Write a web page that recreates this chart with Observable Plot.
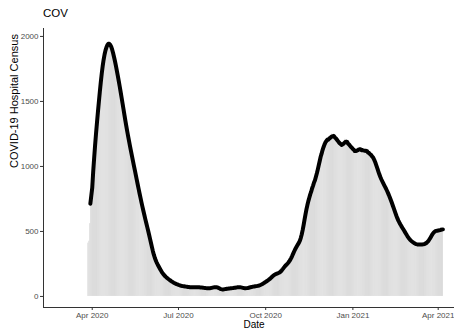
<!DOCTYPE html>
<html>
<head>
<meta charset="utf-8">
<script src="https://cdn.jsdelivr.net/npm/d3@7"></script>
<script src="https://cdn.jsdelivr.net/npm/@observablehq/plot@0.6"></script>
<style>
  html, body { margin: 0; padding: 0; background: #fff; }
  #wrap { position: relative; width: 454px; height: 331px; font-family: "Liberation Sans", Arial, sans-serif; }
  #title { position: absolute; left: 43px; top: 8px; font-size: 11.5px; line-height: 1; color: #000; }
  #chart svg { display: block; }
</style>
</head>
<body>
<div id="wrap">
  <div id="chart"></div>
  <div id="title"></div>
</div>
<script>
// Daily COVID-19 hospital census, one value per day starting at firstDay
const firstDay = "2020-03-28";
// The smoothed line starts a couple of days after the first report
const lineFrom = "2020-03-30";
const census = [
  410, 425, 560, 740, 840, 960, 1080, 1170, 1260, 1335,
  1420, 1500, 1580, 1650, 1720, 1780, 1830, 1870, 1900, 1925,
  1940, 1950, 1955, 1945, 1925, 1900, 1880, 1850, 1810, 1770,
  1735, 1700, 1660, 1615, 1570, 1530, 1485, 1440, 1395, 1350,
  1305, 1265, 1225, 1190, 1150, 1115, 1075, 1040, 1005, 970,
  935, 895, 860, 825, 790, 755, 720, 690, 655, 625,
  595, 565, 535, 505, 475, 445, 410, 380, 345, 315,
  292, 275, 260, 245, 232, 218, 205, 192, 180, 170,
  162, 155, 148, 142, 136, 130, 124, 119, 114, 110,
  106, 102, 98, 95, 92, 89, 86, 84, 82, 80,
  79, 78, 77, 76, 74, 73, 72, 71, 72, 70,
  71, 70, 72, 71, 73, 72, 70, 71, 69, 70,
  68, 67, 66, 65, 64, 63, 62, 63, 62, 64,
  66, 68, 70, 72, 73, 72, 71, 68, 63, 58,
  54, 52, 53, 55, 57, 58, 59, 60, 61, 62,
  62, 63, 64, 65, 66, 68, 69, 70, 71, 72,
  72, 71, 68, 66, 64, 63, 62, 63, 65, 67,
  69, 71, 73, 74, 75, 77, 78, 80, 81, 82,
  84, 86, 89, 93, 97, 102, 107, 112, 117, 122,
  127, 132, 137, 145, 154, 162, 167, 170, 173, 176,
  179, 182, 185, 189, 198, 210, 223, 231, 238, 245,
  253, 261, 269, 278, 295, 313, 331, 346, 361, 376,
  391, 402, 412, 422, 435, 465, 510, 550, 590, 630,
  675, 712, 738, 760, 782, 805, 842, 840, 891, 885,
  926, 928, 975, 1024, 1035, 1090, 1086, 1136, 1144, 1175,
  1199, 1185, 1220, 1198, 1221, 1204, 1225, 1249, 1230, 1250,
  1213, 1226, 1196, 1200, 1199, 1165, 1183, 1148, 1171, 1159,
  1185, 1209, 1182, 1206, 1168, 1176, 1144, 1150, 1159, 1125,
  1138, 1100, 1121, 1106, 1128, 1146, 1120, 1146, 1118, 1133,
  1109, 1122, 1134, 1108, 1133, 1098, 1111, 1084, 1095, 1085,
  1075, 1060, 1045, 1030, 1005, 980, 955, 935, 918, 900,
  885, 870, 857, 843, 829, 815, 798, 780, 762, 742,
  722, 703, 682, 660, 638, 615, 598, 582, 568, 555,
  543, 530, 518, 508, 495, 482, 470, 458, 446, 436,
  431, 425, 418, 413, 408, 404, 401, 399, 398, 398,
  399, 400, 401, 400, 401, 403, 406, 412, 420, 430,
  440, 452, 467, 482, 495, 500, 503, 505, 506, 507,
  508, 510, 512, 515, 520
];
const yTicks = [0, 500, 1000, 1500, 2000];
const xTicks = ["2020-04-01", "2020-07-01", "2020-10-01", "2021-01-01", "2021-04-01"];
const xDomain = ["2020-02-09T14:00Z", "2021-04-18T05:00Z"];
const yDomain = [-85, 2061];
const titleText = "COV";
const xLabel = "Date";
const yLabel = "COVID-19 Hospital Census";

const utc = s => new Date(s.length === 10 ? s + "T00:00:00Z" : s);
const start = utc(firstDay);
const rows = census.map((value, i) => {
  const date = d3.utcDay.offset(start, i);
  return {date, value, x1: d3.utcHour.offset(date, -12), x2: d3.utcHour.offset(date, 12)};
});
const lineStart = utc(lineFrom);
const lineRows = rows.filter(d => d.date >= lineStart);

const fontFamily = '"Liberation Sans", Arial, sans-serif';

const chart = Plot.plot({
  width: 454,
  height: 331,
  marginLeft: 43,
  marginRight: 0,
  marginTop: 28,
  marginBottom: 24,
  style: {fontFamily, background: "white", overflow: "visible"},
  x: {type: "utc", domain: xDomain.map(utc)},
  y: {domain: yDomain},
  marks: [
    // daily bars, with a hairline gap between days
    Plot.rectY(rows, {x1: "x1", x2: "x2", y1: 0, y2: "value", fill: "#d4d4d4", insetRight: 0.15}),
    // smoothed census
    Plot.lineY(lineRows, Plot.windowY({k: 5, anchor: "middle"}, {
      x: "date", y: "value", stroke: "black", strokeWidth: 4, strokeLinejoin: "round"
    })),
    // axis lines
    Plot.ruleY([yDomain[0]], {stroke: "#333", strokeWidth: 1}),
    Plot.ruleX([utc(xDomain[0])], {stroke: "#333", strokeWidth: 1}),
    Plot.axisX({
      ticks: xTicks.map(utc), tickFormat: d3.utcFormat("%b %Y"),
      tickSize: 3, tickPadding: 1.5, fontSize: 8, stroke: "#333", fill: "#4d4d4d", label: null
    }),
    Plot.axisY({
      ticks: yTicks, tickFormat: d3.format("d"),
      tickSize: 3, tickPadding: 2, fontSize: 8, stroke: "#333", fill: "#4d4d4d", label: null
    }),
    Plot.text([xLabel], {text: d => d, frameAnchor: "bottom", dx: 5, dy: 20.5, fontSize: 10, fill: "black"}),
    Plot.text([yLabel], {text: d => d, frameAnchor: "left", rotate: -90, dx: -29, fontSize: 11, fill: "black"})
  ]
});

document.getElementById("chart").append(chart);
document.getElementById("title").textContent = titleText;
</script>
</body>
</html>
